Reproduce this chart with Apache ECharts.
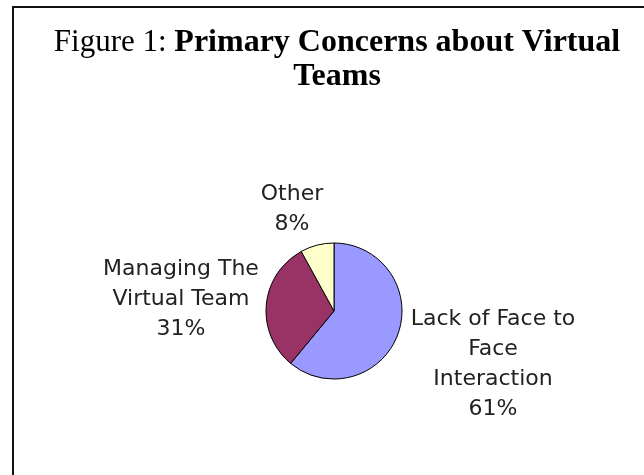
<!DOCTYPE html>
<html>
<head>
<meta charset="utf-8">
<script src="https://cdn.jsdelivr.net/npm/echarts@6/dist/echarts.min.js"></script>
<style>
  html, body { margin: 0; padding: 0; background: #ffffff; }
  #chart { width: 644px; height: 475px; }
</style>
</head>
<body>
<div id="chart"></div>
<script>
// Survey categories and their shares (percent)
const categories = [
  'Lack of Face to\nFace\nInteraction',
  'Managing The\nVirtual Team',
  'Other'
];
const shares = [61, 31, 8];
const sliceColors = ['#9999FF', '#993366', '#FFFFCC'];

// Where each slice's caption sits, in the order of the categories
const labelSpots = [
  [493, 364],
  [181, 299],
  [292, 209]
];

const chart = echarts.init(document.getElementById('chart'), null, { renderer: 'canvas' });

chart.setOption({
  backgroundColor: '#ffffff',
  animation: false,
  title: {
    left: 332,
    top: 21,
    textAlign: 'center',
    text: '{n|Figure 1: }{b|Primary Concerns about Virtual}\n{b|Teams}',
    textStyle: {
      rich: {
        n: { fontFamily: 'Liberation Serif', fontSize: 31, fontWeight: 'normal', color: '#000', lineHeight: 34 },
        b: { fontFamily: 'Liberation Serif', fontSize: 32, fontWeight: 'bold', color: '#000', lineHeight: 34 }
      }
    }
  },
  graphic: [{
    type: 'polyline',
    shape: { points: [[13, 480], [13, 7], [650, 7]] },
    style: { stroke: '#111', lineWidth: 2, fill: null },
    silent: true
  }],
  series: [{
    type: 'pie',
    center: [334, 311],
    radius: 68,
    startAngle: 90,
    clockwise: true,
    avoidLabelOverlap: false,
    itemStyle: { borderColor: '#000', borderWidth: 1 },
    label: {
      show: true,
      formatter: '{b}\n{c}%',
      fontFamily: 'DejaVu Sans',
      fontSize: 22,
      lineHeight: 30,
      color: '#222',
      align: 'center'
    },
    labelLine: { show: false },
    labelLayout: function (p) {
      const s = labelSpots[p.dataIndex];
      return { x: s[0], y: s[1], align: 'center', verticalAlign: 'middle' };
    },
    data: categories.map((name, i) => ({
      name: name,
      value: shares[i],
      itemStyle: { color: sliceColors[i] }
    }))
  }]
});
</script>
</body>
</html>
